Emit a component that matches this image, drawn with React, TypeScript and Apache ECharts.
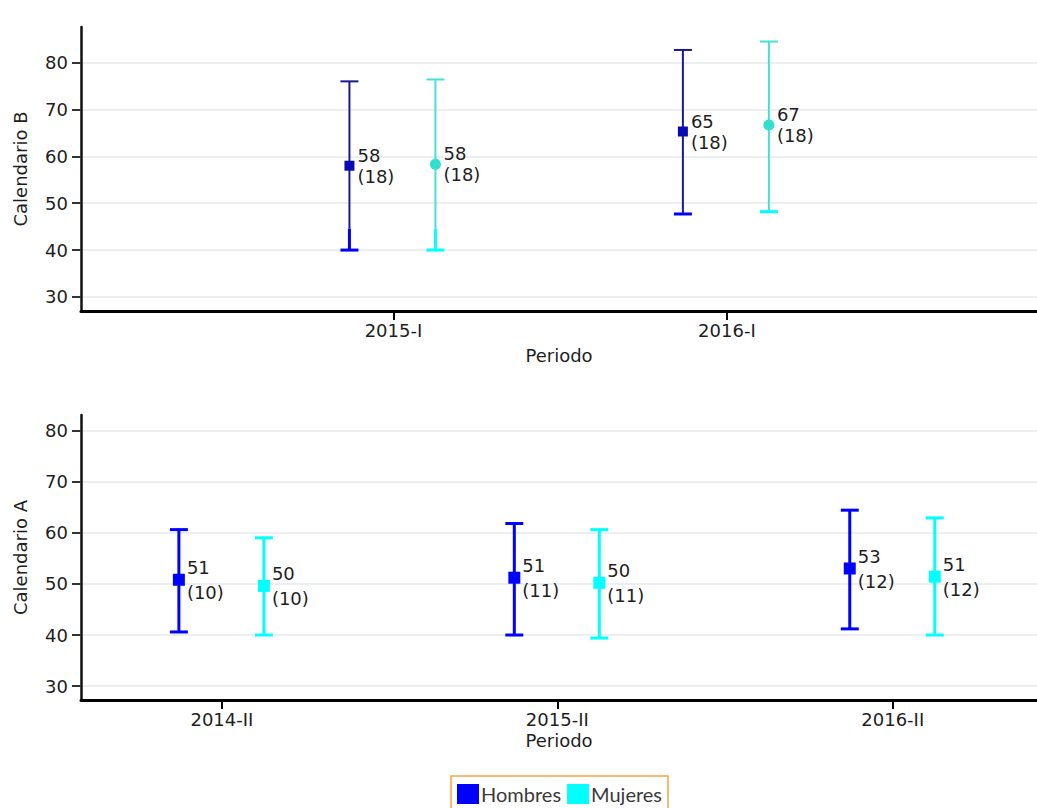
import React, { useEffect, useRef } from 'react';
import * as echarts from 'echarts';

// Calendario B (top)
const periodosB = ['2015-I', '2016-I'];
const hombresB = { media: [58, 65.3], inf: [40, 47.7], sup: [76, 82.7], n: [18, 18] };
const mujeresB = { media: [58.3, 66.7], inf: [40, 48.2], sup: [76.4, 84.5], n: [18, 18] };

// Calendario A (bottom)
const periodosA = ['2014-II', '2015-II', '2016-II'];
const hombresA = { media: [50.8, 51.2, 53], inf: [40.6, 40, 41.2], sup: [60.6, 61.8, 64.4], n: [10, 11, 12] };
const mujeresA = { media: [49.6, 50.2, 51.4], inf: [40, 39.4, 40], sup: [59, 60.6, 62.9], n: [10, 11, 12] };

const yTicks = [30, 40, 50, 60, 70, 80];

const FONT = '"DejaVu Sans", Arial, sans-serif';
const TXT = '#1e1e1e';

type Grupo = { media: number[]; inf: number[]; sup: number[]; n: number[] };

const toRows = (g: Grupo) => g.media.map((m, i) => [i + 1, m, g.inf[i], g.sup[i], g.n[i]]);

interface Estilo {
  offset: number;
  top: string; // colour above split
  bottom: string; // colour below split
  marker: string;
  shape: 'rect' | 'circle';
  size: number;
  topWidth: number;
  bottomWidth: number;
  split: number | null;
  lineHeight: number;
}

const makeSeries = (name: string, g: Grupo, gridIdx: number, st: Estilo) => ({
  name,
  type: 'custom',
  xAxisIndex: gridIdx,
  yAxisIndex: gridIdx,
  itemStyle: { color: st.bottom },
  encode: { x: 0, y: 1 },
  data: toRows(g),
  renderItem: (params: any, api: any) => {
    const x = api.value(0);
    const m = api.value(1);
    const lo = api.value(2);
    const hi = api.value(3);
    const n = api.value(4);
    const c = api.coord([x, m]);
    const px = c[0] + st.offset;
    const py = c[1];
    const pHi = api.coord([x, hi])[1];
    const pLo = api.coord([x, lo])[1];
    const pSplit = st.split != null ? Math.min(pLo, Math.max(pHi, api.coord([x, st.split])[1])) : pLo;
    const cap = 9;
    const children: any[] = [
      {
        type: 'line',
        shape: { x1: px, y1: pHi, x2: px, y2: pSplit },
        style: { stroke: st.top, lineWidth: st.topWidth },
      },
      {
        type: 'line',
        shape: { x1: px - cap, y1: pHi, x2: px + cap, y2: pHi },
        style: { stroke: st.top, lineWidth: st.topWidth },
      },
      {
        type: 'line',
        shape: { x1: px, y1: pSplit, x2: px, y2: pLo },
        style: { stroke: st.bottom, lineWidth: st.bottomWidth },
      },
      {
        type: 'line',
        shape: { x1: px - cap, y1: pLo, x2: px + cap, y2: pLo },
        style: { stroke: st.bottom, lineWidth: st.bottomWidth },
      },
      st.shape === 'rect'
        ? {
            type: 'rect',
            shape: { x: px - st.size / 2, y: py - st.size / 2, width: st.size, height: st.size },
            style: { fill: st.marker },
          }
        : {
            type: 'circle',
            shape: { cx: px, cy: py, r: st.size / 2 },
            style: { fill: st.marker },
          },
      {
        type: 'text',
        x: px + 8,
        y: py,
        style: {
          text: `${Math.round(m)}\n(${n})`,
          fill: TXT,
          fontSize: 18,
          fontFamily: FONT,
          lineHeight: st.lineHeight,
          verticalAlign: 'middle',
          align: 'left',
        },
      },
    ];
    return { type: 'group', children };
  },
});

const xAxisFor = (gridIdx: number, cats: string[], min: number, max: number) => ({
  type: 'value',
  gridIndex: gridIdx,
  min,
  max,
  name: 'Periodo',
  nameLocation: 'middle',
  nameGap: gridIdx === 0 ? 35 : 31,
  nameTextStyle: { color: TXT, fontSize: 18, fontFamily: FONT },
  axisLine: { onZero: false, lineStyle: { color: '#000', width: 3 } },
  axisTick: { show: true, length: 9, lineStyle: { color: '#000', width: 2 }, customValues: cats.map((_, i) => i + 1) },
  axisLabel: {
    color: TXT,
    fontSize: 18,
    fontFamily: FONT,
    margin: 10,
    customValues: cats.map((_, i) => i + 1),
    formatter: (v: number) => cats[Math.round(v) - 1] ?? '',
  },
  splitLine: { show: false },
});

const yAxisFor = (gridIdx: number, name: string, min: number, max: number) => ({
  type: 'value',
  gridIndex: gridIdx,
  min,
  max,
  name,
  nameLocation: 'middle',
  nameGap: 52,
  nameTextStyle: { color: TXT, fontSize: 18, fontFamily: FONT },
  axisLine: { show: true, lineStyle: { color: '#111', width: 2.5 } },
  axisTick: { show: true, length: 9, lineStyle: { color: '#333', width: 2 }, customValues: yTicks },
  axisLabel: { color: TXT, fontSize: 18, fontFamily: FONT, margin: 13, customValues: yTicks },
  splitLine: { show: true, lineStyle: { color: '#ebeff1', width: 2 } },
});

const App: React.FC = () => {
  const chartRef = useRef<HTMLDivElement>(null);

  useEffect(() => {
    if (!chartRef.current) return;
    const chart = echarts.init(chartRef.current, undefined, { renderer: 'svg' });

    const option = {
      animation: false,
      backgroundColor: '#fff',
      grid: [
        { left: 81, right: 0, top: 27, height: 284 },
        { left: 81, right: 0, top: 415, height: 285 },
      ],
      xAxis: [xAxisFor(0, periodosB, 0.063, 2.93), xAxisFor(1, periodosA, 0.58, 3.43)],
      yAxis: [yAxisFor(0, 'Calendario B', 27, 87.6), yAxisFor(1, 'Calendario A', 27.3, 83)],
      legend: {
        left: 451,
        top: 776,
        padding: [8, 6, 8, 6],
        borderColor: '#f5a444',
        borderWidth: 1.5,
        itemWidth: 22,
        itemHeight: 20,
        itemGap: 6,
        icon: 'rect',
        selectedMode: false,
        textStyle: { color: '#3a3a3a', fontSize: 20, fontFamily: 'Lato, "Noto Sans", sans-serif', padding: [0, 0, 0, -3] },
        data: [
          { name: 'Hombres', itemStyle: { color: '#0000ff' } },
          { name: 'Mujeres', itemStyle: { color: '#00ffff' } },
        ],
      },
      series: [
        makeSeries('Hombres', hombresB, 0, {
          offset: -44,
          top: '#1a1a8e',
          bottom: '#0000ff',
          marker: '#0a0ab4',
          shape: 'rect',
          size: 10,
          topWidth: 2,
          bottomWidth: 3,
          split: 44.6,
          lineHeight: 21,
        }),
        makeSeries('Mujeres', mujeresB, 0, {
          offset: 42,
          top: '#44e2d2',
          bottom: '#00ffff',
          marker: '#2fe0cc',
          shape: 'circle',
          size: 11,
          topWidth: 2,
          bottomWidth: 3,
          split: 44.6,
          lineHeight: 21,
        }),
        makeSeries('Hombres', hombresA, 1, {
          offset: -43,
          top: '#0000ff',
          bottom: '#0000ff',
          marker: '#0000ff',
          shape: 'rect',
          size: 12,
          topWidth: 3,
          bottomWidth: 3,
          split: null,
          lineHeight: 25,
        }),
        makeSeries('Mujeres', mujeresA, 1, {
          offset: 42,
          top: '#00ffff',
          bottom: '#00ffff',
          marker: '#00ffff',
          shape: 'rect',
          size: 12,
          topWidth: 3,
          bottomWidth: 3,
          split: null,
          lineHeight: 25,
        }),
      ],
    };

    chart.setOption(option as any);
    return () => {
      chart.dispose();
    };
  }, []);

  return (
    <div
      ref={chartRef}
      style={{ position: 'fixed', left: 0, top: 0, width: 1037, height: 808, background: '#fff' }}
    />
  );
};

export default App;
